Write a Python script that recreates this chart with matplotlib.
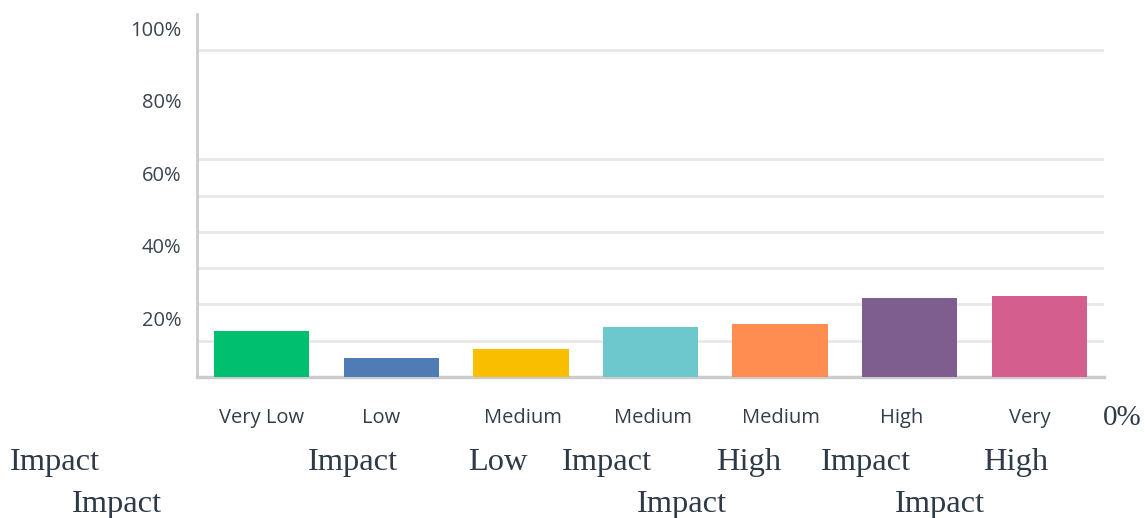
import matplotlib
matplotlib.use("Agg")
import matplotlib.pyplot as plt
from matplotlib.transforms import ScaledTranslation, blended_transform_factory

# ---- data ----
categories = ["Very Low Impact", "Low Impact", "Medium Low Impact", "Medium Impact",
              "Medium High Impact", "High Impact", "Very High Impact"]
values = [12.7, 5.2, 7.7, 13.8, 14.6, 21.8, 22.3]
colors = ["#00BF6F", "#4F7CB5", "#F9BE00", "#6CC8CC", "#FF8C50", "#7D5E8F", "#D45F8F"]
first_line = ["Very Low", "Low", "Medium", "Medium", "Medium", "High", "Very"]
ytick_vals = [20, 40, 60, 80, 100]
ytick_labels = ["20%", "40%", "60%", "80%", "100%"]
grid_vals = [10, 20, 30, 40, 50, 60, 90]
# overflow words (text, left px, baseline px) as rendered in the reference
overflow_words = [("Impact", 10, 470), ("Impact", 308, 470), ("Low", 468, 470),
                  ("Impact", 562, 470), ("High", 716, 470), ("Impact", 821, 470),
                  ("High", 983, 470),
                  ("Impact", 72, 512), ("Impact", 637, 512), ("Impact", 895, 512)]
zero_label = ("0%", 1103, 425)

W, H = 1145, 518
fig = plt.figure(figsize=(W / 100, H / 100), dpi=100)
ax = fig.add_axes([197 / W, 1 - 377 / H, (1104 - 197) / W, (377 - 14) / H])

x = list(range(len(categories)))
ax.bar(x, values, width=0.735, color=colors, zorder=3)
ax.set_xlim(-0.5, len(categories) - 0.5)
ax.set_ylim(0, 100)

for g in grid_vals:
    ax.axhline(g, color="#E8E8E8", lw=2, zorder=1)

for s in ["top", "right"]:
    ax.spines[s].set_visible(False)
ax.spines["left"].set_color("#CCCCCC")
ax.spines["left"].set_linewidth(2)
ax.spines["bottom"].set_color("#CCCCCC")
ax.spines["bottom"].set_linewidth(2.5)

ax.set_xticks([])
ax.set_yticks(ytick_vals)
ax.set_yticklabels(ytick_labels, fontfamily="Open Sans", fontsize=14.5, color="#3B4552")
ax.tick_params(axis="y", length=0, pad=11)
for lbl in ax.get_yticklabels():
    lbl.set_transform(lbl.get_transform() + ScaledTranslation(0, -14 / 100, fig.dpi_scale_trans))

dx = [0, -10, 2, 2, 1, -8, -9]
trans = blended_transform_factory(ax.transData, ax.transAxes)
for i, (w, d) in enumerate(zip(first_line, dx)):
    ax.text(i, 0, w, transform=trans + ScaledTranslation(d / 100, -41 / 100, fig.dpi_scale_trans),
            ha="center", va="center", fontfamily="Open Sans", fontsize=14.5, color="#333E48")

for w, px, py in overflow_words:
    fig.text(px / W, 1 - py / H, w, ha="left", va="baseline",
             fontfamily="Liberation Serif", fontsize=23.4, color="#2E3A46")
fig.text(zero_label[1] / W, 1 - zero_label[2] / H, zero_label[0], ha="left", va="baseline",
         fontfamily="Liberation Serif", fontsize=21, color="#2E3A46")

fig.savefig("out.png", dpi=100)
